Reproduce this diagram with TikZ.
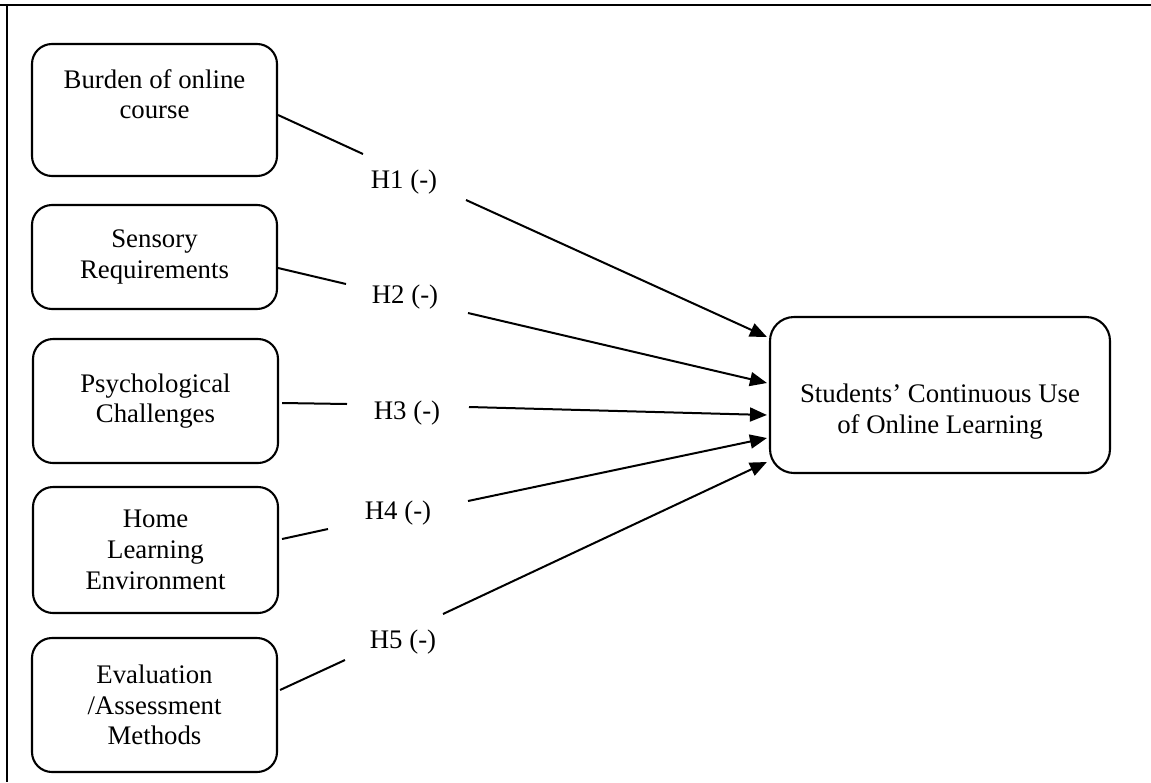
\documentclass[tikz,border=0pt]{standalone}
\usepackage{fontspec}
\setmainfont{Liberation Serif}
\usetikzlibrary{arrows.meta,calc}
\begin{document}
\begin{tikzpicture}[x=0.5pt,y=-0.5pt,
  every node/.style={font=\fontsize{13.4}{15.4}\selectfont},
  boxnode/.style={draw,line width=1.05pt,rounded corners=10pt,minimum width=122.5pt,align=center,inner sep=0pt},
  link/.style={line width=1pt},
  arr/.style={link,-{Triangle[length=8.5pt,width=7pt]}},
  lbl/.style={inner sep=0pt}]
\useasboundingbox (0,0) rectangle (1151,782);
% frame
\draw[line width=1.3pt] (0,5) -- (1151,5);
\draw[line width=1.1pt] (7,5) -- (7,782);
% boxes
\node[boxnode,minimum height=66pt] (b1) at (154.5,110) {Burden of online\\course\\[-4pt]\strut};
\node[boxnode,minimum height=52pt] (b2) at (154.5,257) {Sensory\\Requirements};
\node[boxnode,minimum height=62pt] (b3) at (155.5,401) {Psychological\\Challenges};
\node[boxnode,minimum height=63pt] (b4) at (155.5,550) {Home\\Learning\\Environment};
\node[boxnode,minimum height=67pt] (b5) at (154.5,705) {Evaluation\\/Assessment\\Methods};
\node[boxnode,minimum width=170pt,minimum height=78pt,rounded corners=12pt] (t) at (940,395) {\strut\\Students’ Continuous Use\\of Online Learning};
% labels
\node[lbl] (h1) at (404,182) {H1 (-)};
\node[lbl] (h2) at (405,297) {H2 (-)};
\node[lbl] (h3) at (407,413) {H3 (-)};
\node[lbl] (h4) at (398,513) {H4 (-)};
\node[lbl] (h5) at (403,642) {H5 (-)};
% gap ends
\coordinate (g1a) at (363,154); \coordinate (g1b) at (466,200);
\coordinate (g2a) at (346,284); \coordinate (g2b) at (468,313);
\coordinate (g3a) at (347,404); \coordinate (g3b) at (469,407);
\coordinate (g4a) at (328,529); \coordinate (g4b) at (468,501);
\coordinate (g5a) at (345,660); \coordinate (g5b) at (443,614);
% connectors
\draw[link] ($(b1.east)+(0,5)$) -- (g1a);
\draw[arr] (g1b) -- ($(t.west)+(-2,-58)$);
\draw[link] ($(b2.east)+(0,11)$) -- (g2a);
\draw[arr] (g2b) -- ($(t.west)+(-2,-12)$);
\draw[link] ($(b3.east)+(3,2)$) -- (g3a);
\draw[arr] (g3b) -- ($(t.west)+(-2,20)$);
\draw[link] ($(b4.east)+(3,-11)$) -- (g4a);
\draw[arr] (g4b) -- ($(t.west)+(-2,43)$);
\draw[link] ($(b5.east)+(2,-15)$) -- (g5a);
\draw[arr] (g5b) -- ($(t.west)+(-2,67)$);
\end{tikzpicture}
\end{document}
